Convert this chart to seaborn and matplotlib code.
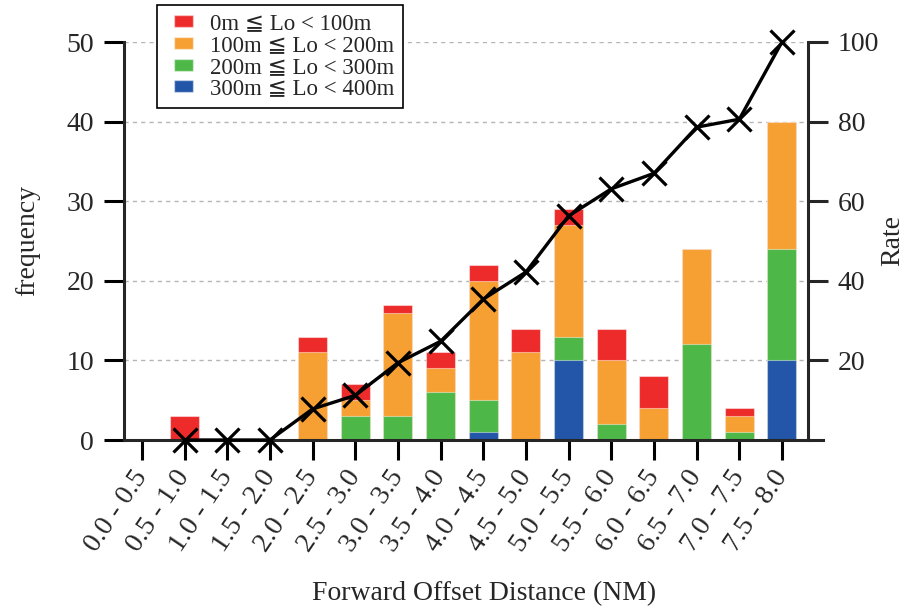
import numpy as np
import pandas as pd
import matplotlib
matplotlib.use("Agg")
import matplotlib.pyplot as plt
from matplotlib.patches import Patch, Rectangle
from matplotlib.legend_handler import HandlerPatch
import seaborn as sns

# Forward offset distance bins (NM)
bins = ["0.0 - 0.5", "0.5 - 1.0", "1.0 - 1.5", "1.5 - 2.0",
        "2.0 - 2.5", "2.5 - 3.0", "3.0 - 3.5", "3.5 - 4.0",
        "4.0 - 4.5", "4.5 - 5.0", "5.0 - 5.5", "5.5 - 6.0",
        "6.0 - 6.5", "6.5 - 7.0", "7.0 - 7.5", "7.5 - 8.0"]

# Frequency per lateral-offset class
lo_0_100   = [0, 3, 0, 0, 2, 2, 1, 2, 2, 3, 2, 4, 4, 0, 1, 0]
lo_100_200 = [0, 0, 0, 0, 11, 2, 13, 3, 15, 11, 14, 8, 4, 12, 2, 16]
lo_200_300 = [0, 0, 0, 0, 0, 3, 3, 6, 4, 0, 3, 2, 0, 12, 1, 14]
lo_300_400 = [0, 0, 0, 0, 0, 0, 0, 0, 1, 0, 10, 0, 0, 0, 0, 10]

# Cumulative rate (%)
rate = [np.nan, 0.0, 0.0, 0.0, 7.8, 11.2, 19.4, 24.8, 35.4, 42.2,
        56.3, 63.1, 67.0, 78.6, 80.6, 100.0]

class_labels = ["0m ≦ Lo < 100m", "100m ≦ Lo < 200m",
                "200m ≦ Lo < 300m", "300m ≦ Lo < 400m"]
class_colors = ["#EE2B2B", "#F6A033", "#4DB848", "#2356A8"]

sns.set_style("ticks")
plt.rcParams["font.family"] = ["Liberation Serif", "DejaVu Serif", "DejaVu Sans"]
plt.rcParams["axes.linewidth"] = 2.2

fig = plt.figure(figsize=(9.08, 6.13), dpi=100)
ax = fig.add_axes([124 / 908, 1 - 440 / 613, 684 / 908, 398 / 613])
ax2 = ax.twinx()

# Stacked bars: draw cumulative totals from the top class down
layers = [lo_300_400, lo_200_300, lo_100_200, lo_0_100]
cums = np.cumsum(np.array(layers, dtype=float), axis=0)
for level in range(3, -1, -1):
    color = class_colors[3 - level]
    sns.barplot(x=bins, y=cums[level], order=bins, color=color,
                saturation=1, width=0.68, edgecolor=(1, 1, 1, 0.45),
                linewidth=0.8, ax=ax, zorder=2)

# Cumulative rate line on the right axis
rate_df = pd.DataFrame({"bin": bins, "rate": rate}).dropna()
sns.lineplot(data=rate_df, x="bin", y="rate", ax=ax2, color="black",
             marker="x", markersize=17, markeredgewidth=2.3,
             markeredgecolor="black", markerfacecolor="black",
             linewidth=2.4, errorbar=None, sort=False, clip_on=False)

ax.set_xlim(-0.42, 15.61)
ax.set_ylim(0, 50)
ax2.set_ylim(0, 100)
ax.set_yticks([0, 10, 20, 30, 40, 50])
ax2.set_yticks([20, 40, 60, 80, 100])

ax.set_axisbelow(True)
ax.yaxis.grid(True, linestyle=(0, (3, 3)), color="#b5b5b5", linewidth=1.0)
ax.xaxis.grid(False)

for s in ["top", "right"]:
    ax.spines[s].set_visible(False)
for s in ["top", "left", "bottom"]:
    ax2.spines[s].set_visible(False)
ax2.spines["right"].set_linewidth(2.2)
ax.spines["bottom"].set_bounds(-0.42, 15.96)

ax.tick_params(axis="both", which="major", length=14.5, width=2.2,
               labelsize=20, color="black", direction="out")
ax.tick_params(axis="y", pad=7)
ax.tick_params(axis="x", pad=9)
ax2.tick_params(axis="y", length=14.5, width=2.2, labelsize=20, pad=7,
                direction="out")

ax.set_xticks(range(len(bins)))
ax.set_xticklabels(bins, rotation=56, ha="right", va="center",
                   rotation_mode="anchor")

ax.set_xlabel("Forward Offset Distance (NM)", fontsize=20)
ax.set_ylabel("frequency", fontsize=20)
ax2.set_ylabel("Rate", fontsize=20)
ax2.set_xlabel("")
ax.xaxis.set_label_coords(0.526, -0.355)
ax.yaxis.set_label_coords(-0.123, 0.5)
ax2.yaxis.set_label_coords(1.106, 0.5)


def swatch(legend, orig_handle, xdescent, ydescent, width, height, fontsize):
    # small colour block placed at the right end of the handle box
    w, h = 13.7, 8.6
    return Rectangle((-xdescent + width - w, -ydescent + (height - h) / 2),
                     w, h)


handles = [Patch(facecolor=c, edgecolor=(1, 1, 1, 0.45)) for c in class_colors]
leg = fig.legend(handles, class_labels, loc="upper left",
                 bbox_to_anchor=(157 / 908, 1 - 5 / 613),
                 bbox_transform=fig.transFigure, borderaxespad=0,
                 frameon=True, fancybox=False, edgecolor="black",
                 framealpha=1, fontsize=16.5, handlelength=1.22,
                 handleheight=0.6, handletextpad=0.74, labelspacing=0.03,
                 borderpad=0.36,
                 handler_map={Patch: HandlerPatch(patch_func=swatch)})
leg.get_frame().set_linewidth(1.2)

fig.savefig("out.png", dpi=100)
